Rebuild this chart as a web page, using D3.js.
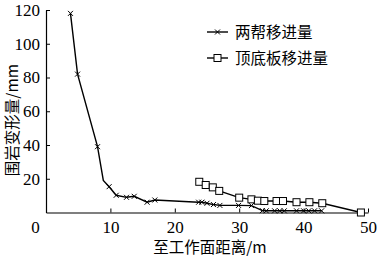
<!DOCTYPE html>
<html>
<head>
<meta charset="utf-8">
<script src="https://cdn.jsdelivr.net/npm/d3@7"></script>
<style>
  body { margin: 0; background: #fff; }
  svg { display: block; }
  .num { font-family: "Liberation Serif", "DejaVu Serif", serif; font-size: 17px; }
  .cjk { font-family: "Noto Sans CJK SC", sans-serif; font-size: 15.5px; }
</style>
</head>
<body>
<div id="chart"></div>
<script>
// Series 1: 两帮移进量 (x markers)
const sideX = [3.8, 4.9, 8.0, 8.9, 9.8, 10.9, 12.5, 13.7, 15.7, 16.9, 23.7, 24.2, 25.0, 26.0, 27.0, 29.9, 31.9, 33.6, 34.2, 35.5, 36.3, 37.0, 38.9, 40.0, 40.8, 41.7, 42.8];
const sideY = [118, 82, 39, 19, 15.3, 10.2, 9.0, 9.6, 6.1, 7.4, 6.1, 6.1, 5.5, 4.7, 4.2, 4.2, 4.1, 1.1, 1.0, 1.0, 1.0, 1.0, 1.0, 1.0, 1.0, 1.0, 1.0];
// Series 2: 顶底板移进量 (square markers)
const roofX = [23.8, 24.8, 25.9, 26.9, 30.0, 31.9, 32.9, 33.9, 35.8, 36.8, 38.9, 40.9, 42.9, 48.9];
const roofY = [18.2, 16.3, 14.9, 12.8, 8.8, 7.8, 7.0, 6.8, 6.8, 6.8, 6.1, 6.1, 5.5, 0];

const xTicks = [0, 10, 20, 30, 40, 50];
const yTicks = [20, 40, 60, 80, 100, 120];
const legendNames = ["两帮移进量", "顶底板移进量"];
const xTitle = "至工作面距离/m";
const yTitle = "围岩变形量/mm";

const width = 378, height = 259;
const svg = d3.select("#chart").append("svg")
  .attr("width", width).attr("height", height);

const x = d3.scaleLinear().domain([0, 50]).range([46, 368]);
const y = d3.scaleLinear().domain([0, 120]).range([212.5, 10]);

// Axes, ticks pointing inward
const xAxis = svg.append("g")
  .attr("transform", `translate(0,${y(0)})`)
  .call(d3.axisBottom(x).tickValues(xTicks).tickSize(-4).tickSizeOuter(0).tickPadding(8));
xAxis.selectAll("text").attr("class", "num").attr("font-size", null).attr("font-family", null)
  .attr("dx", d => d === 0 ? "-11px" : null);

const yAxis = svg.append("g")
  .attr("transform", `translate(${x(0)},0)`)
  .call(d3.axisLeft(y).tickValues(yTicks).tickSize(-4).tickSizeOuter(0).tickPadding(6));
yAxis.selectAll("text").attr("class", "num").attr("font-size", null).attr("font-family", null);

svg.selectAll(".domain").attr("stroke", "#000").attr("stroke-width", 1.2);
svg.selectAll(".tick line").attr("stroke", "#000");
svg.selectAll(".tick text").attr("fill", "#000");

// Titles
svg.append("text").attr("class", "cjk")
  .attr("x", 210).attr("y", 253).attr("text-anchor", "middle")
  .text(xTitle);
svg.append("text").attr("class", "cjk")
  .attr("transform", `translate(18,120) rotate(-90)`)
  .attr("text-anchor", "middle")
  .text(yTitle);

const line = d3.line().x(d => x(d[0])).y(d => y(d[1]));
const side = sideX.map((v, i) => [v, sideY[i]]);
const roof = roofX.map((v, i) => [v, roofY[i]]);

const crossPath = "M-2.5,-2.5L2.5,2.5M-2.5,2.5L2.5,-2.5";

function drawCross(g, px, py) {
  g.append("path").attr("d", crossPath)
    .attr("transform", `translate(${px},${py})`)
    .attr("stroke", "#000").attr("stroke-width", 1).attr("fill", "none");
}
function drawSquare(g, px, py) {
  g.append("rect").attr("x", px - 3.5).attr("y", py - 3.5)
    .attr("width", 7).attr("height", 7)
    .attr("fill", "#fff").attr("stroke", "#000").attr("stroke-width", 1);
}

const plot = svg.append("g");
plot.append("path").datum(side).attr("d", line)
  .attr("fill", "none").attr("stroke", "#000").attr("stroke-width", 1.4);
plot.append("path").datum(roof).attr("d", line)
  .attr("fill", "none").attr("stroke", "#000").attr("stroke-width", 1.4);

// the corner at index 3 has no marker in the reference
side.forEach((d, i) => { if (i !== 3) drawCross(plot, x(d[0]), y(d[1])); });
roof.forEach(d => drawSquare(plot, x(d[0]), y(d[1])));

// Legend
const legend = svg.append("g");
const rows = [32, 58];
legendNames.forEach((name, i) => {
  const ly = rows[i];
  legend.append("line").attr("x1", 207).attr("x2", 228).attr("y1", ly).attr("y2", ly)
    .attr("stroke", "#000").attr("stroke-width", 1.4);
  if (i === 0) drawCross(legend, 217.5, ly); else drawSquare(legend, 217.5, ly);
  legend.append("text").attr("class", "cjk")
    .attr("x", 235).attr("y", ly).attr("dy", "0.36em")
    .style("font-size", "15.5px")
    .text(name);
});
</script>
</body>
</html>
